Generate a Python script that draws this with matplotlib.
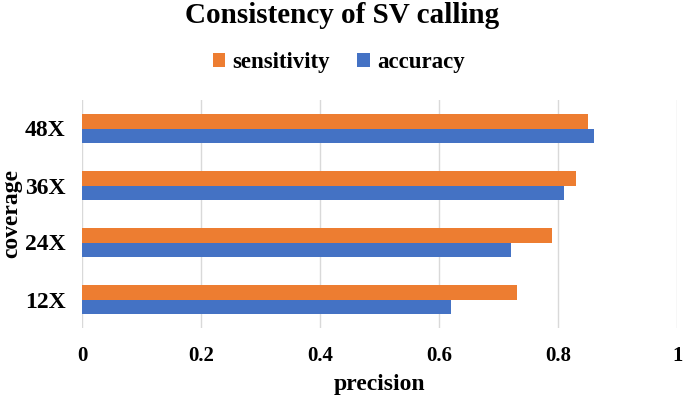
import numpy as np
import matplotlib.pyplot as plt

plt.rcParams['font.family'] = ['Liberation Serif', 'DejaVu Serif']
plt.rcParams['font.weight'] = 'bold'

coverage = ['12X', '24X', '36X', '48X']
sensitivity = [0.73, 0.79, 0.83, 0.85]
accuracy = [0.62, 0.72, 0.81, 0.86]

fig = plt.figure(figsize=(6.85, 4.0), dpi=100)
ax = fig.add_axes([0.12, 0.18, 0.869, 0.57])

y = np.arange(len(coverage))
h = 0.25
ax.barh(y + h/2, sensitivity, height=h, color='#ED7D31', label='sensitivity', zorder=3)
ax.barh(y - h/2, accuracy, height=h, color='#4472C4', label='accuracy', zorder=3)

ax.set_xlim(0, 1)
ax.set_ylim(-0.5, len(coverage) - 0.5)
ax.set_xticks(np.arange(0, 1.01, 0.2))
ax.set_xticklabels(['0', '0.2', '0.4', '0.6', '0.8', '1'])
ax.set_yticks(y)
ax.set_yticklabels(coverage)
ax.grid(axis='x', color='#D9D9D9', linewidth=1, zorder=0)
for s in ax.spines.values():
    s.set_visible(False)
ax.tick_params(axis='x', length=0, labelsize=15, pad=13)
ax.tick_params(axis='y', length=0, labelsize=17, pad=12)

ax.set_xlabel('precision', fontsize=17, fontweight='bold', labelpad=6)
ax.set_ylabel('coverage', fontsize=17, fontweight='bold', labelpad=2)
fig.text(0.5, 0.962, 'Consistency of SV calling', ha='center', va='center',
         fontsize=21, fontweight='bold')
ax.legend(loc='center', bbox_to_anchor=(0.5 - 0.12/0.869*0.5, 1.0 + 0.093/0.57),
          ncol=2, frameon=False, fontsize=16.5, handlelength=0.55, handleheight=0.55,
          handletextpad=0.3, columnspacing=1.2)

fig.savefig('out.png', dpi=100)
